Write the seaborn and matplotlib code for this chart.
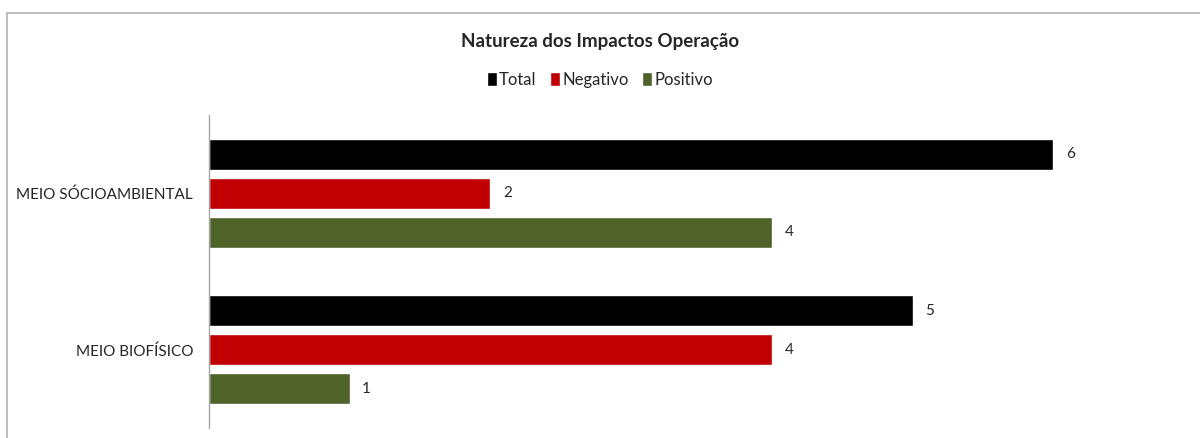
import pandas as pd
import matplotlib.pyplot as plt
import seaborn as sns
from matplotlib.patches import Rectangle


# Dados do gráfico
categorias = ["MEIO SÓCIOAMBIENTAL", "MEIO BIOFÍSICO"]
series = ["Total", "Negativo", "Positivo"]
total = [6, 5]
negativo = [2, 4]
positivo = [4, 1]
cores = ["#000000", "#C00000", "#4F6228"]

sns.set_style("white")
plt.rcParams["font.family"] = ["Lato", "DejaVu Sans"]

df = pd.DataFrame({
    "meio": categorias * 3,
    "serie": [s for s in series for _ in categorias],
    "valor": total + negativo + positivo,
})

fig = plt.figure(figsize=(12, 4.38), dpi=100)
ax = fig.add_axes([209 / 1200, 10 / 438, (1194 - 209) / 1200, 313 / 438])

sns.barplot(
    data=df,
    y="meio",
    x="valor",
    hue="serie",
    order=categorias,
    hue_order=series,
    palette=cores,
    orient="h",
    width=0.75,
    gap=0.21,
    saturation=1,
    ax=ax,
)

# Rótulos de valor
for cont in ax.containers:
    ax.bar_label(cont, fmt="%d", padding=9, fontsize=11)

handles, labels = ax.get_legend_handles_labels()
ax.get_legend().remove()
fig.legend(
    handles, labels,
    loc="center", bbox_to_anchor=(0.5, 1 - 80 / 438),
    ncol=3, frameon=False, fontsize=12,
    handlelength=0.6, handleheight=0.9, handletextpad=0.15, columnspacing=0.8,
)

fig.text(0.5, 1 - 41 / 438, "Natureza dos Impactos Operação",
         ha="center", va="center", fontsize=13.5, fontweight="bold")

ax.set_xlim(0, 7)
ax.set_ylim(1.5, -0.5)
ax.set_xlabel("")
ax.set_ylabel("")
ax.set_xticks([])
ax.tick_params(axis="y", length=0, pad=11.5, labelsize=11)
for lado in ["top", "right", "bottom"]:
    ax.spines[lado].set_visible(False)
ax.spines["left"].set_color("#A6A6A6")
ax.spines["left"].set_linewidth(1)

# Moldura do gráfico (cortada à direita e em baixo)
fig.patches.append(Rectangle((7 / 1200, -0.1), 1.2, 1 - 12.5 / 438 + 0.1,
                             transform=fig.transFigure, fill=False,
                             edgecolor="#BFBFBF", linewidth=1.5))

plt.savefig("out.png", dpi=100)
plt.close()
